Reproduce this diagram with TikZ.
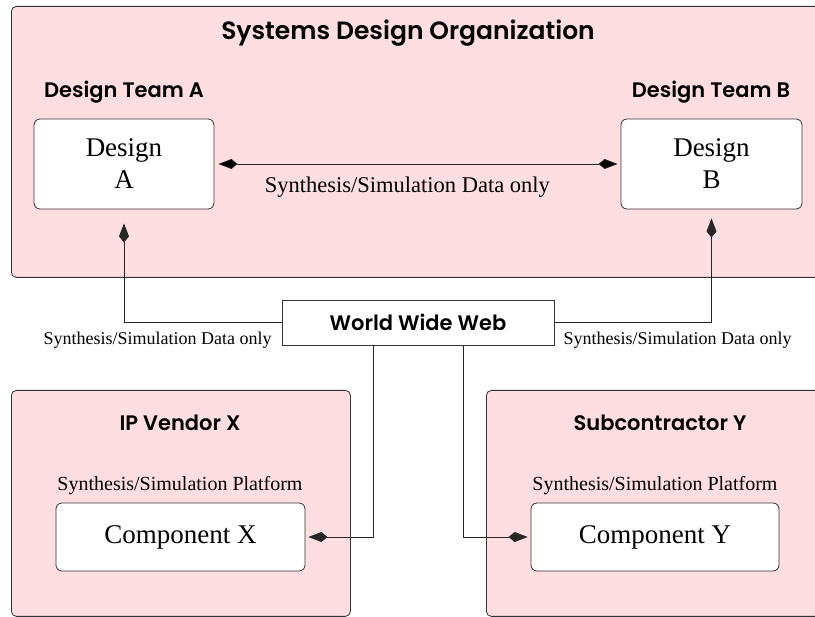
\documentclass[tikz,border=0pt]{standalone}
\usepackage{fontspec}
\setmainfont{Liberation Serif}
\setsansfont{Poppins}[BoldFont={Poppins SemiBold}]
\usetikzlibrary{arrows.meta,positioning}
\definecolor{orgpink}{RGB}{255,222,225}

\tikzset{
  org/.style={draw=black!80, fill=orgpink, rounded corners=5pt, line width=0.8pt,
    anchor=north west, inner sep=0pt},
  team/.style={draw=black!80, fill=white, rounded corners=6pt, line width=0.8pt,
    align=center, font=\fontsize{27}{32}\selectfont},
  heading/.style={font=\sffamily\bfseries\fontsize{21}{24}\selectfont},
  note/.style={font=\fontsize{18}{21}\selectfont, inner sep=0pt},
  link/.style={draw=black!85, line width=0.8pt},
  dtip/.tip={Kite[length=19pt,width=10pt,inset=6pt]}
}

\begin{document}
\begin{tikzpicture}[x=1pt,y=-1pt]
    \clip (0,0) rectangle (815,617);

    % the organisation and its two teams
    \node[org, minimum width=830, minimum height=271] (sdo) at (11,6) {};
    \node[heading, font=\sffamily\bfseries\fontsize{25}{28}\selectfont] (sdotitle) at (408,33) {Systems Design Organization};
    \node[heading] (teama) at (124,92) {Design Team A};
    \node[heading] (teamb) at (711,92) {Design Team B};
    \node[team, minimum width=180, minimum height=90] (desa) at (124,164) {Design\\A};
    \node[team, minimum width=181, minimum height=90] (desb) at (711.5,164) {Design\\B};

    % outside partners
    \node[org, minimum width=339, minimum height=226] (vendor) at (11,390) {};
    \node[org, minimum width=340, minimum height=226] (sub) at (486,390) {};
    \node[heading] (vendortitle) at (180,423) {IP Vendor X};
    \node[heading] (subtitle) at (660,423) {Subcontractor Y};
    \node[note, font=\fontsize{20}{24}\selectfont] (platx) at (180,486) {Synthesis/Simulation Platform};
    \node[note, font=\fontsize{20}{24}\selectfont] (platy) at (655,486) {Synthesis/Simulation Platform};
    \node[team, minimum width=249, minimum height=68] (compx) at (180.5,537) {Component X};
    \node[team, minimum width=248, minimum height=68] (compy) at (655,537) {Component Y};

    % the web in the middle
    \node[draw=black!80, fill=white, line width=0.8pt, minimum width=272, minimum height=45,
      heading] (www) at (418,322.5) {World Wide Web};
    \coordinate (wl) at (373,345);
    \coordinate (wr) at (463,345);

    \path[link]
    (desa) edge[dtip-dtip, shorten <=4pt, shorten >=3pt]
      node[note, font=\fontsize{22.5}{26}\selectfont, pos=.475, below=12pt] (datamid) {Synthesis/Simulation Data only} (desb)
    ;
    \draw[link, -dtip, shorten >=14pt] (www.west) -| (desa.south);
    \draw[link, -dtip, shorten >=9pt] (www.east) -| (desb.south);
    \draw[link, -dtip, shorten >=3pt] (wl) |- (compx.east);
    \draw[link, -dtip, shorten >=3pt] (wr) |- (compy.west);

    \node[note] (dataleft) at (157.5,340) {Synthesis/Simulation Data only};
    \node[note] (dataright) at (677.5,340) {Synthesis/Simulation Data only};
\end{tikzpicture}
\end{document}
